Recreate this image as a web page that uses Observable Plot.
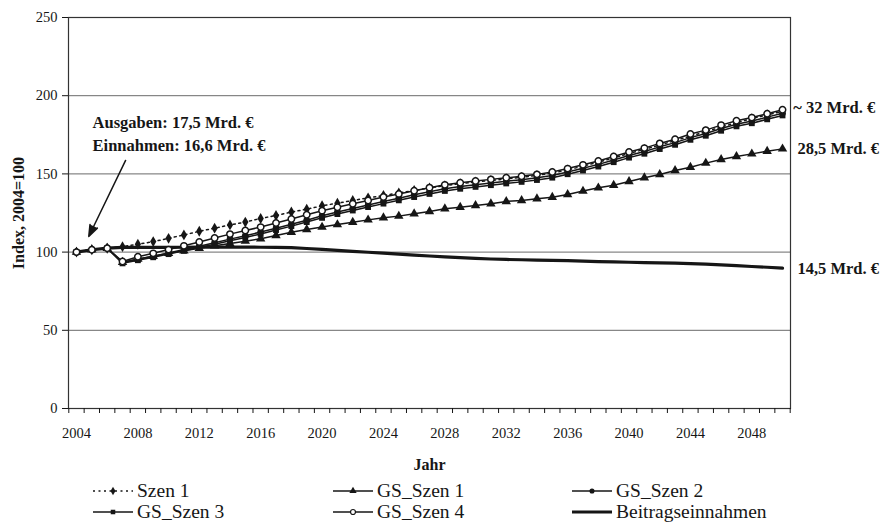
<!DOCTYPE html>
<html><head><meta charset="utf-8">
<script src="https://cdn.jsdelivr.net/npm/d3@7"></script>
<script src="https://cdn.jsdelivr.net/npm/@observablehq/plot@0.6"></script>
<style>
body{margin:0;background:#fff;font-family:"Liberation Serif",serif;}
#chart{position:relative;width:886px;height:524px;overflow:hidden;}
.legend{position:absolute;left:0;top:475px;width:886px;height:49px;}
.item{position:absolute;display:flex;align-items:center;font-size:19.5px;color:#161616;white-space:nowrap;line-height:1;}
.item svg{margin-right:3px;display:block}
</style></head><body><div id="chart"></div>
<script>
// ---- data ----
const years = d3.range(2004, 2051);
const yearLabels = [2004, 2008, 2012, 2016, 2020, 2024, 2028, 2032, 2036, 2040, 2044, 2048];
const yTicks = [0, 50, 100, 150, 200, 250];
const seriesNames = ["Szen 1", "GS_Szen 1", "GS_Szen 2", "GS_Szen 3", "GS_Szen 4", "Beitragseinnahmen"];

const szen1 = [100,101.5,102.5,103.5,105,106.7,108.8,111,113.3,115.3,117.4,119.2,121.5,123.4,125.6,127.4,129.6,131.3,133,134.7,136.2,137.8,139.4,141,142.5,143.7,144.8,145.8,146.8,147.8,149,150.5,152.5,155,157.5,160.2,163,165.7,168.5,171.3,174.2,177,180,182.8,185.3,187.8,190];
const gsSzen1 = [100,101.5,102.5,93.5,95.6,97.4,99.2,100.9,102.5,104,105.5,107,108.5,110.6,112.7,114.5,116,117.6,119.1,120.6,122,123,124.5,126,127.7,128.7,129.8,130.9,132.4,133,134.1,135.1,136.8,139,141.1,142.8,145.1,147.5,149.6,152.2,154.3,156.9,159.2,161.1,162.8,164.5,166];
const gsSzen2 = [100,101.5,102.5,93.2,95.5,97.4,99.5,101.6,103.8,106,108.3,110.5,112.8,115.3,117.8,120.4,123.2,125.6,127.9,130.1,132.4,134.5,136.6,138.6,140.5,141.9,143.1,144.2,145.3,146.3,147.5,149,151.2,153.6,156.1,158.9,161.8,164.3,167.3,170,173.2,175.8,179,181.8,183.8,186.3,188.8];
const gsSzen3 = [100,101.5,102.5,92.8,94.8,96.7,98.7,100.8,102.9,105,107.2,109.4,111.6,114.1,116.6,119.2,121.9,124.3,126.6,128.8,131,133.1,135.2,137.2,139.1,140.5,141.7,142.8,143.9,144.9,146.1,147.6,149.8,152.2,154.7,157.5,160.4,162.9,165.9,168.6,171.8,174.4,177.6,180.4,182.4,184.9,187.4];
const gsSzen4 = [100,101.5,102.5,94,97,99.2,101.6,104,106.5,109,111.5,113.8,116,118.6,121.2,123.9,126.5,128.7,130.9,133,135.2,137.2,139.2,141.2,143,144.3,145.5,146.5,147.5,148.5,149.7,151.2,153.4,155.8,158.3,161.1,164,166.5,169.5,172.2,175.5,178,181.2,184,186,188.5,191];
const beitrag = [100,101.5,102.5,103,103,103,103,103.1,103.2,103.2,103.2,103.2,103.1,103,102.8,102.3,101.7,101.1,100.5,99.9,99.3,98.7,98.1,97.5,97,96.5,96,95.6,95.3,95.1,94.9,94.7,94.5,94.2,93.9,93.7,93.5,93.3,93.1,92.9,92.6,92.3,91.8,91.3,90.8,90.3,89.8];

const endLabels = ["~ 32 Mrd. €", "28,5 Mrd. €", "14,5 Mrd. €"];
const endLabelYears = [2050.7, 2050.97, 2050.97];
const endLabelValues = [192.5, 166, 89.5];
const noteLines = ["Ausgaben: 17,5 Mrd. €", "Einnahmen: 16,6 Mrd. €"];
const noteYears = [2005.05, 2005.05];
const noteValues = [182.5, 168.2];
const arrowFrom = [2007.2, 158.6];
const arrowTo = [2004.8, 110];

// ---- styles ----
const ink = "#161616";
const styles = {
  "Szen 1": {symbol: "diamond", r: 3.3, fill: ink, stroke: ink, sw: 1.5, dash: "2,3.5"},
  "GS_Szen 1": {symbol: "triangle", r: 3.5, fill: ink, stroke: ink, sw: 1.5, dash: null},
  "GS_Szen 2": {symbol: "circle", r: 3.3, fill: ink, stroke: ink, sw: 1.5, dash: null},
  "GS_Szen 3": {symbol: "square", r: 3.3, fill: ink, stroke: ink, sw: 1.5, dash: null},
  "GS_Szen 4": {symbol: "circle", r: 3.2, fill: "#fff", stroke: ink, sw: 1.5, dash: null},
  "Beitragseinnahmen": {symbol: null, r: 0, fill: "none", stroke: ink, sw: 3.2, dash: null}
};
const seriesValues = {"Szen 1": szen1, "GS_Szen 1": gsSzen1, "GS_Szen 2": gsSzen2, "GS_Szen 3": gsSzen3, "GS_Szen 4": gsSzen4, "Beitragseinnahmen": beitrag};
const drawOrder = ["Beitragseinnahmen", "GS_Szen 1", "Szen 1", "GS_Szen 3", "GS_Szen 2", "GS_Szen 4"];

const seriesMarks = drawOrder.flatMap(name => {
  const s = styles[name];
  const rows = years.map((y, i) => ({year: y, value: seriesValues[name][i]}));
  const m = [Plot.line(rows, {x: "year", y: "value", stroke: s.stroke, strokeWidth: s.sw, strokeDasharray: s.dash ?? undefined})];
  if (s.symbol) {
    const dotStroke = name === "GS_Szen 4" ? s.stroke : "none";
    m.push(Plot.dot(rows, {x: "year", y: "value", symbol: () => s.symbol, r: s.r, fill: s.fill, stroke: dotStroke, strokeWidth: 1.5}));
  }
  return m;
});

const fontFam = "'Liberation Serif', 'Times New Roman', serif";

const chart = Plot.plot({
  width: 886, height: 475,
  marginLeft: 68, marginRight: 96, marginTop: 17, marginBottom: 67,
  x: {domain: [2003.48, 2050.52]},
  y: {domain: [0, 250]},
  symbol: {type: "identity"},
  style: {fontFamily: fontFam, fontSize: "14.5px", color: ink, background: "white"},
  marks: [
    Plot.gridY(yTicks.filter(d => d > 0), {stroke: "#6a6a6a", strokeOpacity: 1, strokeWidth: 1}),
    Plot.frame({stroke: "#333", strokeWidth: 1.2}),
    Plot.axisY(yTicks, {tickSize: 6, tickPadding: 5, label: null, fontSize: 14.5}),
    Plot.axisX(d3.range(2003.5, 2051, 1), {tickSize: 5, tickFormat: () => "", label: null}),
    Plot.axisX(yearLabels, {tickSize: 0, tickPadding: 19, tickFormat: d => String(d), label: null, fontSize: 14.5}),
    ...seriesMarks,
    Plot.text(noteLines, {x: (d, i) => noteYears[i], y: (d, i) => noteValues[i], text: d => d, textAnchor: "start", fontWeight: "bold", fontSize: 16.5}),
    Plot.arrow([0], {x1: () => arrowFrom[0], y1: () => arrowFrom[1], x2: () => arrowTo[0], y2: () => arrowTo[1], stroke: ink, fill: ink, strokeWidth: 1.5, headLength: 12, headAngle: 40}),
    Plot.text(endLabels, {x: (d, i) => endLabelYears[i], y: (d, i) => endLabelValues[i], text: d => d, textAnchor: "start", fontWeight: "bold", fontSize: 16.5}),
    Plot.text(["Index, 2004=100"], {frameAnchor: "left", dx: -50, rotate: -90, textAnchor: "middle", text: d => d, fontWeight: "bold", fontSize: 16}),
    Plot.text(["Jahr"], {frameAnchor: "bottom", dy: 61, text: d => d, fontWeight: "bold", fontSize: 16})
  ]
});

const root = document.getElementById("chart");
root.appendChild(chart);

// ---- legend ----
const legend = document.createElement("div");
legend.className = "legend";
root.appendChild(legend);
const colLeft = [92, 332, 571];
const rowMid = [16, 37];
seriesNames.forEach((name, i) => {
  const s = styles[name];
  const item = document.createElement("div");
  item.className = "item";
  item.style.left = colLeft[i % 3] + "px";
  item.style.top = (rowMid[Math.floor(i / 3)] - 10) + "px";
  item.style.height = "20px";
  const svg = d3.create("svg").attr("width", 42).attr("height", 14);
  svg.append("line").attr("x1", 1).attr("x2", 41).attr("y1", 7).attr("y2", 7)
    .attr("stroke", s.stroke).attr("stroke-width", s.sw).attr("stroke-dasharray", s.dash);
  if (s.symbol) {
    const symMap = {diamond: d3.symbolDiamond, triangle: d3.symbolTriangle, circle: d3.symbolCircle, square: d3.symbolSquare};
    svg.append("path").attr("transform", "translate(21,7)")
      .attr("d", d3.symbol(symMap[s.symbol], Math.PI * s.r * s.r * 0.6)())
      .attr("fill", s.fill).attr("stroke", name === "GS_Szen 4" ? s.stroke : "none").attr("stroke-width", 1.2);
  }
  item.appendChild(svg.node());
  const span = document.createElement("span");
  span.textContent = name;
  item.appendChild(span);
  legend.appendChild(item);
});
</script>
</body></html>
